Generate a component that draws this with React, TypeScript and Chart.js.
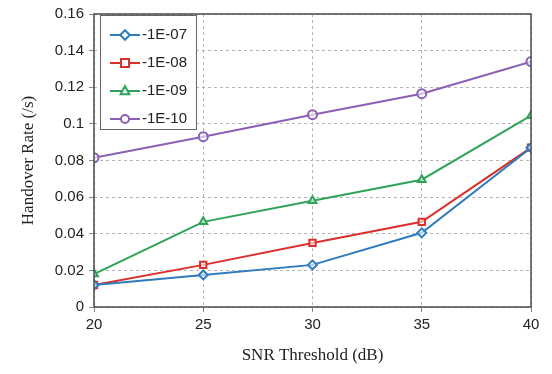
import React, { useEffect, useRef } from "react";
import { Chart, registerables } from "chart.js";

Chart.register(...registerables);

const snrThresholds = [20, 25, 30, 35, 40];
const labels = ["-1E-07", "-1E-08", "-1E-09", "-1E-10"];
const series1E07 = [0.012, 0.0175, 0.023, 0.0405, 0.087];
const series1E08 = [0.012, 0.023, 0.035, 0.0465, 0.087];
const series1E09 = [0.018, 0.0465, 0.058, 0.0695, 0.1045];
const series1E10 = [0.0815, 0.093, 0.105, 0.1165, 0.134];
const colors = ["#2f7bbd", "#d9302c", "#2ea35a", "#8a5fb5"];
const pointStyles = ["rectRot", "rect", "triangle", "circle"];
const yTicks = [0, 0.02, 0.04, 0.06, 0.08, 0.1, 0.12, 0.14, 0.16];

function drawMarker(ctx: CanvasRenderingContext2D, style: string, x: number, y: number, r: number) {
  ctx.beginPath();
  if (style === "circle") {
    ctx.arc(x, y, r, 0, Math.PI * 2);
  } else if (style === "rect") {
    ctx.rect(x - r, y - r, 2 * r, 2 * r);
  } else if (style === "rectRot") {
    ctx.moveTo(x, y - r * 1.2);
    ctx.lineTo(x + r * 1.2, y);
    ctx.lineTo(x, y + r * 1.2);
    ctx.lineTo(x - r * 1.2, y);
    ctx.closePath();
  } else if (style === "triangle") {
    ctx.moveTo(x, y - r * 1.2);
    ctx.lineTo(x + r * 1.1, y + r * 0.8);
    ctx.lineTo(x - r * 1.1, y + r * 0.8);
    ctx.closePath();
  }
  ctx.fill();
  ctx.stroke();
}

const legendPlugin = {
  id: "insideLegend",
  afterDraw(chart: any) {
    const ctx = chart.ctx;
    const a = chart.chartArea;
    ctx.save();
    ctx.strokeStyle = "#4a4a4a";
    ctx.lineWidth = 1.5;
    ctx.strokeRect(a.left, a.top, a.right - a.left, a.bottom - a.top);
    const bx = a.left + 6, by = a.top + 1, bw = 96, bh = 114;
    ctx.fillStyle = "#ffffff";
    ctx.fillRect(bx, by, bw, bh);
    ctx.strokeStyle = "#666";
    ctx.lineWidth = 1;
    ctx.strokeRect(bx + 0.5, by + 0.5, bw, bh);
    chart.data.datasets.forEach((ds: any, i: number) => {
      const cy = by + 20 + i * 28;
      const x0 = bx + 10, x1 = bx + 40;
      ctx.strokeStyle = ds.borderColor;
      ctx.lineWidth = 2;
      ctx.beginPath();
      ctx.moveTo(x0, cy);
      ctx.lineTo(x1, cy);
      ctx.stroke();
      ctx.fillStyle = "#fff";
      drawMarker(ctx, ds.pointStyle, (x0 + x1) / 2, cy, 4);
      ctx.fillStyle = "#222";
      ctx.font = "15px 'Liberation Sans', Arial, sans-serif";
      ctx.textBaseline = "middle";
      ctx.textAlign = "left";
      ctx.fillText(ds.label, x1 + 2, cy);
    });
    ctx.restore();
  },
};

export default function App() {
  const ref = useRef<HTMLCanvasElement>(null);
  useEffect(() => {
    document.body.style.margin = "0";
    const allSeries = [series1E07, series1E08, series1E09, series1E10];
    const chart = new Chart(ref.current!, {
      type: "line",
      data: {
        datasets: allSeries.map((s, i) => ({
          label: labels[i],
          data: s.map((v, j) => ({ x: snrThresholds[j], y: v })),
          borderColor: colors[i],
          backgroundColor: "#ffffff",
          pointStyle: pointStyles[i] as any,
          pointRadius: 4.5,
          pointBorderWidth: 2,
          pointBorderColor: colors[i],
          pointBackgroundColor: "rgba(255,255,255,0.6)",
          borderWidth: 2,
          tension: 0,
        })),
      },
      options: {
        animation: false,
        responsive: false,
        layout: { padding: { top: 11, right: 21, left: 0, bottom: 0 } },
        plugins: { legend: { display: false }, tooltip: { enabled: false } },
        scales: {
          x: {
            type: "linear",
            min: 20,
            max: 40,
            afterFit: (s: any) => { s.height = 67; },
            ticks: {
              stepSize: 5,
              color: "#222",
              padding: 4,
              font: { family: "'Liberation Sans', Arial, sans-serif", size: 15 },
            },
            grid: {
              color: "#b5b5b5",
              borderDash: [3, 3],
              tickBorderDash: [],
              tickLength: 5,
              tickColor: "#888",
            } as any,
            border: { display: false, dash: [3, 3] },
            title: {
              display: true,
              text: "SNR Threshold (dB)",
              color: "#222",
              font: { family: "'Liberation Serif', 'Times New Roman', serif", size: 17 },
              padding: { top: 0, bottom: 8 },
            },
          },
          y: {
            min: 0,
            max: 0.16,
            afterFit: (s: any) => { s.width = 94; },
            afterBuildTicks: (s: any) => { s.ticks = yTicks.map((v) => ({ value: v })); },
            ticks: {
              color: "#222",
              padding: 5,
              font: { family: "'Liberation Sans', Arial, sans-serif", size: 15 },
              callback: (v: any) => String(Number(Number(v).toFixed(2))),
            },
            grid: {
              color: "#b5b5b5",
              borderDash: [3, 3],
              tickBorderDash: [],
              tickLength: 5,
              tickColor: "#888",
            } as any,
            border: { display: false, dash: [3, 3] },
            title: {
              display: true,
              text: "Handover Rate (/s)",
              color: "#222",
              font: { family: "'Liberation Serif', 'Times New Roman', serif", size: 17 },
              padding: { top: 18, bottom: 0 },
            },
          },
        },
      },
      plugins: [legendPlugin],
    } as any);
    return () => chart.destroy();
  }, []);
  return <canvas ref={ref} width={552} height={374} style={{ display: "block" }} />;
}
